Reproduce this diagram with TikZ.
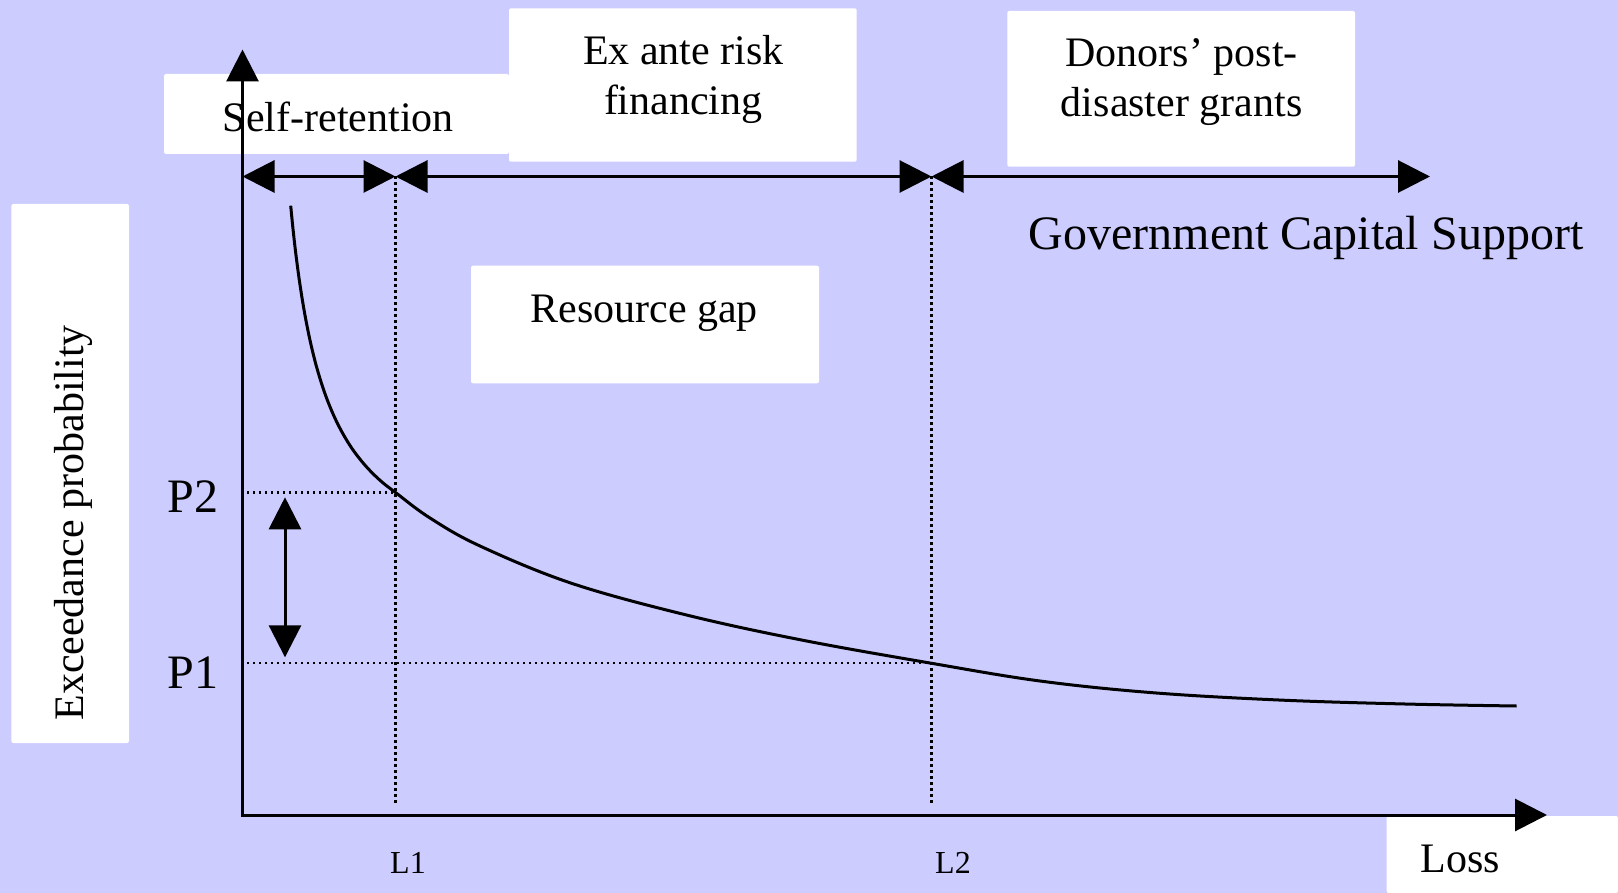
\documentclass[tikz,border=0pt]{standalone}
\usepackage{fontspec}
\setmainfont{Liberation Serif}
\usetikzlibrary{arrows.meta}

\definecolor{bglav}{HTML}{CCCCFF}

\begin{document}
\begin{tikzpicture}[
  x=0.5pt, y=-0.5pt,
  every node/.style={font=\fontsize{21}{25}\selectfont, inner sep=0pt},
  panel/.style={fill=white, rounded corners=1pt},
  lbl/.style={anchor=base, align=center},
  axis/.style={line width=1.5pt, line join=miter,
    {Triangle[length=16pt,width=16pt]}-{Triangle[length=16pt,width=16pt]}},
  span/.style={line width=1.5pt,
    {Triangle[length=16pt,width=16pt]}-{Triangle[length=16pt,width=16pt]}},
  guide/.style={line width=1.1pt, dash pattern=on 1.1pt off 1.9pt},
  curve/.style={line width=1.5pt}
]

\useasboundingbox (0,0) rectangle (1618,893);
\fill[bglav] (0,0) rectangle (1618,893);

% white label panels
\fill[panel] (164,74) rectangle (509,154);
\fill[panel] (509,8.3) rectangle (856.7,161.7);
\fill[panel] (1007.3,11) rectangle (1355,166.7);
\fill[panel] (471,265.7) rectangle (819,383.3);
\fill[panel] (11.4,204) rectangle (129,743);
\fill[panel] (1386.7,816) rectangle (1618,893);

\coordinate (O) at (242.5,815);
\coordinate (ytip) at (242.5,49.5);
\coordinate (xtip) at (1547,815);
\coordinate (a0) at (242.5,176.5);
\coordinate (l1) at (395.5,176.5);
\coordinate (l2) at (931.5,176.5);
\coordinate (a3) at (1430,176.5);
\coordinate (l1b) at (395.5,803);
\coordinate (l2b) at (931.5,803);
\coordinate (p2) at (247,492.5);
\coordinate (p1) at (247,663.3);
\coordinate (c2) at (395.5,492.5);
\coordinate (c1) at (931.5,663.3);
\coordinate (da) at (285,497.3);
\coordinate (db) at (285,657.3);

\draw[guide] (l1) -- (l1b);
\draw[guide] (l2) -- (l2b);
\draw[guide] (p2) -- (c2);
\draw[guide] (p1) -- (c1);

% exceedance curve
\draw[curve] plot[smooth, tension=0.6] coordinates {
  (290.7,205.7) (293,228.9) (296,255.2) (300,284.8) (305,315.3)
  (311,344.7) (318,371.9) (327,399.2) (338,424.5) (351,447)
  (365,465.2) (380,480.3) (395.5,492.5) (430,518) (480,546)
  (571.6,583.3) (686.5,615) (801.5,640) (931.6,663.3) (1040,681)
  (1152.5,692.7) (1278.8,700) (1405,704) (1516.6,706)};

\draw[axis] (ytip) -- (O) -- (xtip);
\draw[span] (a0) -- (l1);
\draw[span] (l1) -- (l2);
\draw[span] (l2) -- (a3);
\draw[span] (da) -- (db);

\node[lbl] (selfret) at (338.3,131.7) {Self-retention};
\node[lbl] (exante) at (683.3,115) {Ex ante risk\\financing};
\node[lbl] (donors) at (1181.7,116.7) {Donors’ post-\\disaster grants};
\node[lbl, font=\fontsize{24}{29}\selectfont] (govsup) at (1306,249.7)
  {Government Capital Support};
\node[lbl] (gap) at (644.2,322.7) {Resource gap};
\node[rotate=90] (exprob) at (73,523) {Exceedance probability};
\node[lbl] (loss) at (1460,872.3) {Loss};
\node[lbl, font=\fontsize{16}{19}\selectfont] (L1) at (408,873) {L1};
\node[lbl, font=\fontsize{16}{19}\selectfont] (L2) at (953,873) {L2};
\node[lbl, font=\fontsize{24}{28}\selectfont] (P2) at (193,512.7) {P2};
\node[lbl, font=\fontsize{24}{28}\selectfont] (P1) at (193,688.3) {P1};

\end{tikzpicture}
\end{document}
